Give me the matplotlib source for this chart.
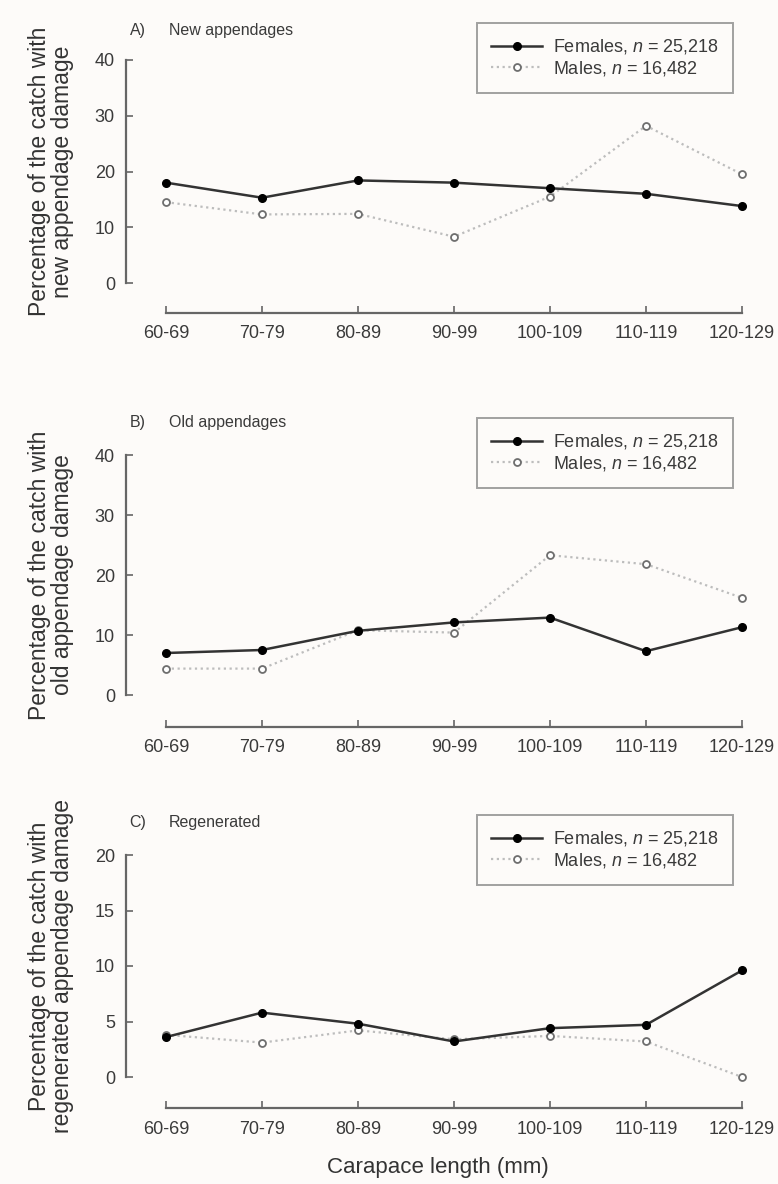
import matplotlib
matplotlib.use("Agg")
import matplotlib.pyplot as plt

plt.rcParams['font.family'] = ['Liberation Sans', 'DejaVu Sans']
plt.rcParams['mathtext.fontset'] = 'custom'
plt.rcParams['mathtext.rm'] = 'Liberation Sans'
plt.rcParams['mathtext.it'] = 'Liberation Sans:italic'

# datos
categorias = ['60-69', '70-79', '80-89', '90-99', '100-109', '110-119', '120-129']

nuevas_hembras = [18.0, 15.3, 18.4, 18.0, 17.0, 16.0, 13.8]
nuevas_machos = [14.5, 12.3, 12.4, 8.3, 15.5, 28.2, 19.5]

viejas_hembras = [7.0, 7.5, 10.7, 12.1, 12.9, 7.3, 11.3]
viejas_machos = [4.4, 4.4, 10.8, 10.4, 23.3, 21.8, 16.2]

regen_hembras = [3.6, 5.8, 4.8, 3.2, 4.4, 4.7, 9.6]
regen_machos = [3.8, 3.1, 4.2, 3.4, 3.7, 3.2, 0.0]

etiqueta_h = 'Females, $n$ = 25,218'
etiqueta_m = 'Males, $n$ = 16,482'

fondo = '#fdfbf9'
gris = '#666666'
texto = '#3a3a3a'

W, H = 778, 1184
fig = plt.figure(figsize=(W / 100, H / 100), dpi=100, facecolor=fondo)

# (arriba_px, abajo_px, eje_x_px, ymax, yticks, letra, subtitulo, ylabel, legend_top_px, datos)
paneles = [
    (60, 283, 313, 40, [0, 10, 20, 30, 40], 'A)', 'New appendages',
     'Percentage of the catch with\nnew appendage damage', 23,
     nuevas_hembras, nuevas_machos),
    (455, 695, 727, 40, [0, 10, 20, 30, 40], 'B)', 'Old appendages',
     'Percentage of the catch with\nold appendage damage', 418,
     viejas_hembras, viejas_machos),
    (855, 1077, 1108, 20, [0, 5, 10, 15, 20], 'C)', 'Regenerated',
     'Percentage of the catch with\nregenerated appendage damage', 815,
     regen_hembras, regen_machos),
]

izq_px, der_px = 126, 750
x0_px, paso_px = 166, 96
x = list(range(len(categorias)))

for (top, bot, ejex, ymax, yt, letra, sub, ylab, legtop, hembras, machos) in paneles:
    ax = fig.add_axes([izq_px / W, (H - bot) / H, (der_px - izq_px) / W, (bot - top) / H])
    ax.set_facecolor('none')

    ax.plot(x, machos, linestyle=(0, (1, 1.6)), color='#bdbdbd', lw=1.6,
            marker='o', ms=5, mfc='white', mec='#6e6e6e', mew=1.3,
            label=etiqueta_m, clip_on=False, zorder=2)
    ax.plot(x, hembras, linestyle='-', color='#333333', lw=1.8,
            marker='o', ms=5.5, mfc='black', mec='black',
            label=etiqueta_h, clip_on=False, zorder=3)

    ax.set_xlim((izq_px - x0_px) / paso_px, (der_px - x0_px) / paso_px)
    ax.set_ylim(0, ymax)
    ax.set_yticks(yt)
    ax.set_xticks(x)
    ax.set_xticklabels(categorias)

    for s in ['top', 'right']:
        ax.spines[s].set_visible(False)
    ax.spines['left'].set_bounds(0, ymax)
    ax.spines['bottom'].set_bounds(0, len(categorias) - 1)
    ax.spines['bottom'].set_position(('outward', (ejex - bot) * 0.72))
    for s in ['left', 'bottom']:
        ax.spines[s].set_color(gris)
        ax.spines[s].set_linewidth(1.6)

    ax.tick_params(direction='in', length=5, width=1.2, color=gris,
                   labelcolor=texto, labelsize=13)
    ax.tick_params(axis='y', pad=8)
    ax.tick_params(axis='x', pad=9)

    alto = bot - top
    ytit = (bot - (top - 30 if letra == 'A)' else top - 33)) / alto
    ax.text(0.006, ytit, letra, transform=ax.transAxes, fontsize=11.5,
            color=texto, va='center', ha='left')
    ax.text(0.069, ytit, sub, transform=ax.transAxes, fontsize=11.5,
            color=texto, va='center', ha='left')

    ax.text((51 - izq_px) / (der_px - izq_px), 0.5, ylab, transform=ax.transAxes,
            rotation=90, ha='center', va='center', multialignment='center',
            fontsize=16.5, color='#333333', linespacing=1.05)

    handles, labels = ax.get_legend_handles_labels()
    leg = ax.legend(handles[::-1], labels[::-1], loc='upper right',
                    bbox_to_anchor=(733 / W, 1 - legtop / H),
                    bbox_transform=fig.transFigure, borderaxespad=0,
                    fontsize=13, frameon=True, fancybox=False,
                    handlelength=2.8, handletextpad=0.6, labelspacing=0.15,
                    borderpad=0.8, labelcolor=texto)
    leg.get_frame().set_edgecolor('#8a8a8a')
    leg.get_frame().set_linewidth(1.4)
    leg.get_frame().set_facecolor(fondo)

    if letra == 'C)':
        ax.set_xlabel('Carapace length (mm)', fontsize=16, color='#333333', labelpad=14)

fig.savefig('out.png', dpi=100, facecolor=fondo)
